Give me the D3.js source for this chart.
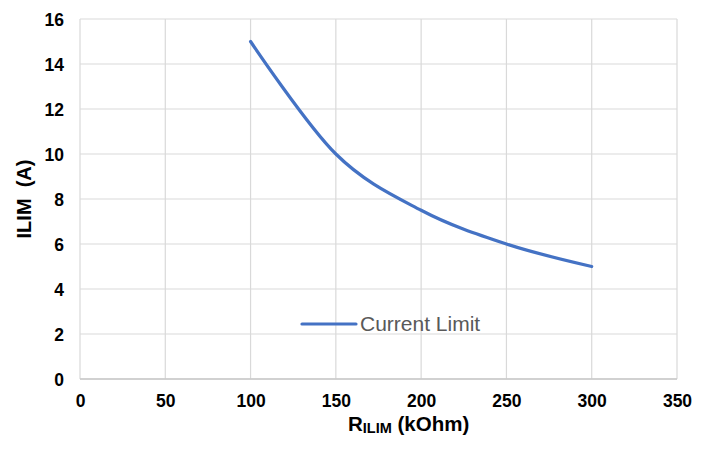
<!DOCTYPE html>
<html>
<head>
<meta charset="utf-8">
<script src="https://cdn.jsdelivr.net/npm/d3@7"></script>
<style>
  html, body { margin: 0; padding: 0; background: #fff; }
  svg { display: block; font-family: "Liberation Sans", Arial, sans-serif; }
</style>
</head>
<body>
<svg id="chart" width="710" height="451"></svg>
<script>
// ---- data ----
const resistance = [100, 150, 200, 250, 300];      // R_ILIM (kOhm)
const currentLimit = [15, 10, 7.5, 6, 5];          // ILIM (A)
const xTicks = [0, 50, 100, 150, 200, 250, 300, 350];
const yTicks = [0, 2, 4, 6, 8, 10, 12, 14, 16];
const seriesName = "Current Limit";

(function () {
// ---- layout ----
const svg = d3.select("#chart");
const pLeft = 80, pRight = 677, pTop = 19, pBottom = 379;
const x = d3.scaleLinear().domain([0, 350]).range([pLeft, pRight]);
const y = d3.scaleLinear().domain([0, 16]).range([pBottom, pTop]);
const gridColor = "#d9d9d9";

// gridlines
svg.append("g").selectAll("line").data(xTicks).join("line")
  .attr("x1", d => x(d)).attr("x2", d => x(d))
  .attr("y1", pTop).attr("y2", pBottom)
  .attr("stroke", gridColor).attr("stroke-width", 1.2);
svg.append("g").selectAll("line").data(yTicks).join("line")
  .attr("x1", pLeft).attr("x2", pRight)
  .attr("y1", d => y(d)).attr("y2", d => y(d))
  .attr("stroke", gridColor).attr("stroke-width", 1.2);
svg.append("line").attr("x1", pLeft).attr("x2", pRight).attr("y1", pBottom).attr("y2", pBottom)
  .attr("stroke", "#c8c8c8").attr("stroke-width", 1.4);

// axes (labels only)
const xAxis = d3.axisBottom(x).tickValues(xTicks).tickSize(0).tickPadding(0);
const gx = svg.append("g").attr("transform", `translate(0,${pBottom})`).call(xAxis);
gx.select(".domain").remove();
gx.selectAll("text").attr("y", 28).attr("dy", 0)
  .attr("font-size", 17.5).attr("font-weight", "bold").attr("fill", "#000")
  .attr("font-family", "'Liberation Sans', Arial, sans-serif");

const yAxis = d3.axisLeft(y).tickValues(yTicks).tickSize(0).tickPadding(0);
const gy = svg.append("g").attr("transform", `translate(${pLeft},0)`).call(yAxis);
gy.select(".domain").remove();
gy.selectAll("text").attr("x", -16).attr("dy", "0.35em")
  .attr("font-size", 17.5).attr("font-weight", "bold").attr("fill", "#000")
  .attr("font-family", "'Liberation Sans', Arial, sans-serif");

// series line
const pts = resistance.map((r, i) => [r, currentLimit[i]]);
const line = d3.line().x(d => x(d[0])).y(d => y(d[1])).curve(d3.curveCardinal.tension(0));
svg.append("path").datum(pts)
  .attr("d", line).attr("fill", "none")
  .attr("stroke", "#4472C4").attr("stroke-width", 3.2).attr("stroke-linecap", "round");

// legend
svg.append("line").attr("x1", 302).attr("x2", 356).attr("y1", 324).attr("y2", 324)
  .attr("stroke", "#4472C4").attr("stroke-width", 3.2).attr("stroke-linecap", "round");
svg.append("text").attr("x", 360).attr("y", 331)
  .attr("font-size", 21).attr("fill", "#595959").text(seriesName);

// axis titles
const xt = svg.append("text").attr("x", 348).attr("y", 431)
  .attr("font-size", 20.5).attr("font-weight", "bold").attr("fill", "#000");
xt.append("tspan").text("R");
xt.append("tspan").attr("font-size", 14.5).attr("dy", 2).text("ILIM");
xt.append("tspan").attr("dy", -2).text(" (kOhm)");

svg.append("text").attr("transform", "translate(31,199) rotate(-90)")
  .attr("text-anchor", "middle").attr("font-size", 20).attr("font-weight", "bold")
  .attr("fill", "#000").style("white-space", "pre").text("ILIM  (A)");
})();
</script>
</body>
</html>
